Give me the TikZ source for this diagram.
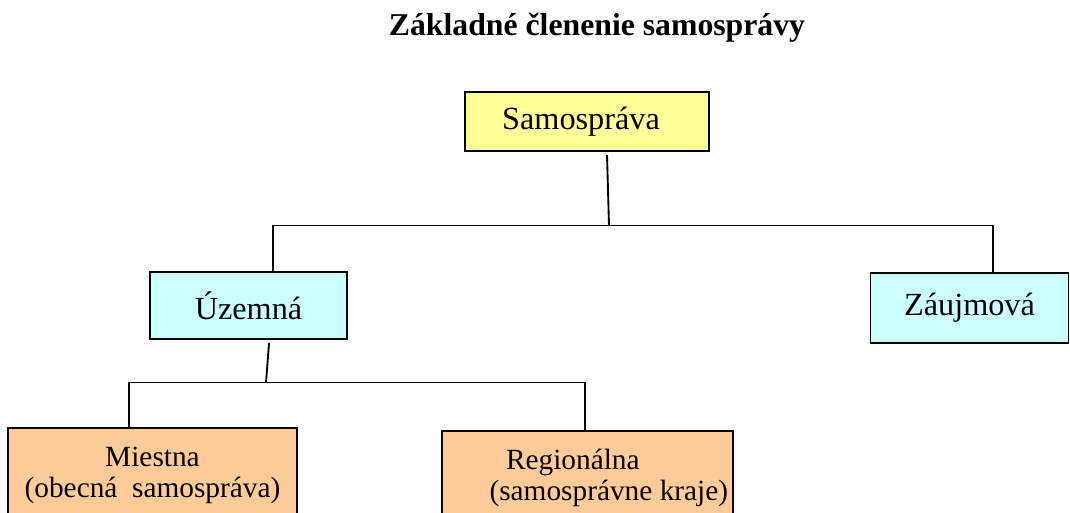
\documentclass[tikz,border=0pt]{standalone}
\usepackage{fontspec}
\setmainfont{Liberation Serif}
\usetikzlibrary{positioning}
\definecolor{boxyellow}{HTML}{FFFF99}
\definecolor{boxcyan}{HTML}{CCFFFF}
\definecolor{boxorange}{HTML}{FFCC99}
\begin{document}
\begin{tikzpicture}[x=0.75pt, y=-0.75pt,
                    box/.style={draw, line width=1.4pt, inner sep=0pt, align=center},
                    wire/.style={line width=1.4pt},
                    big/.style={font=\fontsize{24.2}{28}\selectfont},
                    small/.style={font=\fontsize{22}{23.3}\selectfont}]
    \useasboundingbox (0,0) rectangle (1070,513);
    \clip (0,0) rectangle (1070,513);
    \node[font=\bfseries\fontsize{23.8}{28}\selectfont] (title) at (597,28) {Základné členenie samosprávy};
    % boxes
    \node[box, fill=boxyellow, big, minimum width=183pt, minimum height=44.25pt] (sam) at (587,121.5) {Samospráva\hspace*{9pt}};
    \node[box, fill=boxcyan, big, minimum width=147.75pt, minimum height=50.25pt] (uz) at (248.5,305.5) {Územná};
    \node[box, fill=boxcyan, big, minimum width=148.5pt, minimum height=52.5pt] (za) at (969.5,308) {Záujmová};
    \node[box, fill=boxorange, small, minimum width=216.75pt, minimum height=70.5pt] (mi) at (152.5,475) {Miestna\\(obecná~ samospráva)};
    \node[box, fill=boxorange, small, minimum width=218.25pt, minimum height=69.75pt] (reg) at (587.5,477.5) {\hspace*{-22pt}Regionálna\\\hspace*{32pt}(samosprávne kraje)};
    % connectors
    \coordinate (j1) at (609,225.5);
    \coordinate (l1) at (273,225.5);
    \coordinate (r1) at (993,225.5);
    \coordinate (j2) at (266,382.5);
    \coordinate (l2) at (129,382.5);
    \coordinate (r2) at (585,382.5);
    \draw[wire] ([xshift=15pt,yshift=-2.25pt]sam.south) -- (j1);
    \draw[wire] (uz.north -| l1) |- (r1) -- (r1 |- za.north);
    \draw[wire] ([xshift=15.4pt,yshift=-2.25pt]uz.south) -- (j2);
    \draw[wire] (mi.north -| l2) |- (r2) -- (r2 |- reg.north);
\end{tikzpicture}
\end{document}
